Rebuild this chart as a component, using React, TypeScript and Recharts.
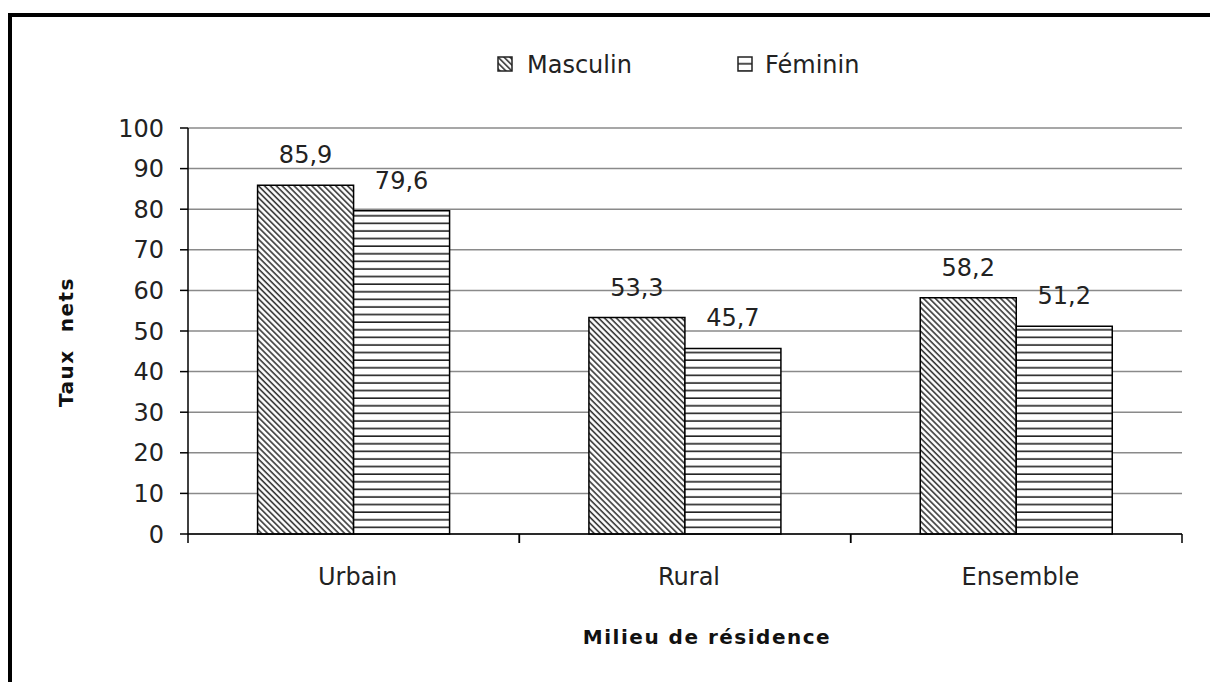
import { BarChart, Bar, XAxis, YAxis, CartesianGrid, LabelList } from 'recharts'

const categories = ['Urbain', 'Rural', 'Ensemble']
const masculin = [85.9, 53.3, 58.2]
const feminin = [79.6, 45.7, 51.2]
const yTicks = [0, 10, 20, 30, 40, 50, 60, 70, 80, 90, 100]
const seriesNames = ['Masculin', 'Féminin']

const data = categories.map((name, i) => ({
  name,
  masculin: masculin[i],
  feminin: feminin[i],
}))

const fmt = (v: any) => Number(v).toFixed(1).replace('.', ',')

const TICK_SIZE = 8
const TICK_MARGIN = 26

function XTick(props: any) {
  const { x, y, payload } = props
  const half = payload.offset ?? 165.7
  const y0 = y - TICK_SIZE - TICK_MARGIN
  return (
    <g>
      <line x1={x - half} x2={x - half} y1={y0} y2={y0 + 9} stroke="#000" strokeWidth={1.5} />
      <line x1={x + half} x2={x + half} y1={y0} y2={y0 + 9} stroke="#000" strokeWidth={1.5} />
      <text x={x + 4} y={y} dy="0.71em" textAnchor="middle" fontSize={24} fill="#222">
        {payload.value}
      </text>
    </g>
  )
}

export default function App() {
  return (
    <div
      style={{
        position: 'fixed',
        left: 0,
        top: 0,
        width: 1210,
        height: 682,
        overflow: 'hidden',
        background: '#fff',
        fontFamily: '"DejaVu Sans", sans-serif',
      }}
    >
      <div
        style={{
          position: 'absolute',
          left: 8,
          top: 13,
          width: 1400,
          height: 900,
          border: '4px solid #000',
          boxSizing: 'border-box',
        }}
      />
      <div style={{ position: 'absolute', left: 0, top: 0 }}>
        <BarChart
          width={1210}
          height={682}
          data={data}
          margin={{ top: 128, right: 28, bottom: 108, left: 128 }}
          barCategoryGap="21%"
          barGap={0}
        >
          <defs>
            <pattern id="hatchDiag" width={4.2} height={4.2} patternUnits="userSpaceOnUse" patternTransform="rotate(-45)">
              <rect width={4.2} height={4.2} fill="#fff" />
              <line x1={1} y1={0} x2={1} y2={4.2} stroke="#333" strokeWidth={1.6} />
            </pattern>
            <pattern id="hatchHoriz" width={8} height={7.6} patternUnits="userSpaceOnUse">
              <rect width={8} height={7.6} fill="#fff" />
              <line x1={0} y1={3} x2={8} y2={3} stroke="#222" strokeWidth={1.6} />
            </pattern>
          </defs>
          <CartesianGrid vertical={false} stroke="#8a8a8a" strokeWidth={1.5} />
          <XAxis
            dataKey="name"
            height={40}
            axisLine={{ stroke: '#000', strokeWidth: 1.5 }}
            tickLine={false}
            tickSize={TICK_SIZE}
            tickMargin={TICK_MARGIN}
            tick={<XTick />}
            interval={0}
          />
          <YAxis
            width={60}
            domain={[0, 100]}
            ticks={yTicks}
            interval={0}
            axisLine={{ stroke: '#000', strokeWidth: 1.5 }}
            tickLine={{ stroke: '#000', strokeWidth: 1.5 }}
            tickSize={TICK_SIZE}
            tickMargin={16}
            tick={{ fontSize: 24, fill: '#222' }}
          />
          <Bar dataKey="masculin" name={seriesNames[0]} fill="url(#hatchDiag)" stroke="#000" strokeWidth={1.5} isAnimationActive={false}>
            <LabelList dataKey="masculin" position="top" offset={22} formatter={fmt} fill="#222" fontSize={24} />
          </Bar>
          <Bar dataKey="feminin" name={seriesNames[1]} fill="url(#hatchHoriz)" stroke="#000" strokeWidth={1.5} isAnimationActive={false}>
            <LabelList dataKey="feminin" position="top" offset={22} formatter={fmt} fill="#222" fontSize={24} />
          </Bar>
        </BarChart>
      </div>
      <svg width={1210} height={682} style={{ position: 'absolute', left: 0, top: 0, pointerEvents: 'none' }}>
        <rect x={498} y={57} width={14} height={14} fill="url(#hatchDiag)" stroke="#222" strokeWidth={1.5} />
        <text x={527} y={65} dominantBaseline="central" fontSize={24} fill="#222">
          {seriesNames[0]}
        </text>
        <rect x={738} y={57} width={14} height={14} fill="url(#hatchHoriz)" stroke="#222" strokeWidth={1.5} />
        <text x={765} y={65} dominantBaseline="central" fontSize={24} fill="#222">
          {seriesNames[1]}
        </text>
        <text
          x={66}
          y={342}
          transform="rotate(-90 66 342)"
          textAnchor="middle"
          dominantBaseline="central"
          fontSize={20}
          fontWeight="bold"
          letterSpacing={1.5}
          fill="#111"
          style={{ whiteSpace: 'pre' }}
        >
          {'Taux  nets'}
        </text>
        <text
          x={707}
          y={637}
          textAnchor="middle"
          dominantBaseline="central"
          fontSize={20}
          fontWeight="bold"
          letterSpacing={1.5}
          fill="#111"
        >
          Milieu de résidence
        </text>
      </svg>
    </div>
  )
}
